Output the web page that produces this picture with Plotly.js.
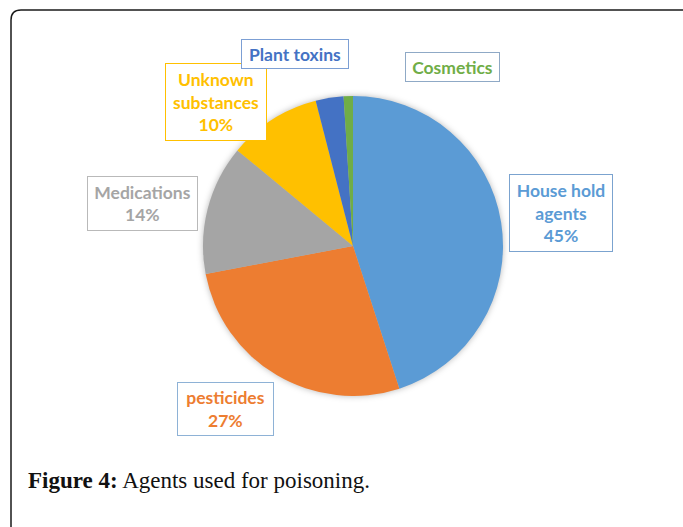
<!DOCTYPE html>
<html>
<head>
<meta charset="utf-8">
<script src="https://cdn.plot.ly/plotly-3.0.1.min.js"></script>
<style>
  html, body { margin: 0; padding: 0; background: #fff; }
  #chart { width: 683px; height: 527px; }
  #chart .pielayer { filter: drop-shadow(0 0 3px rgba(0,0,0,0.28)); }
</style>
</head>
<body>
<div id="chart"></div>
<script>
// Poisoning agents, share of cases (%)
const agents = ["House hold agents", "pesticides", "Medications", "Unknown substances", "Plant toxins", "Cosmetics"];
const shares = [45, 27, 14, 10, 3, 1];
const sliceColors = ["#5B9BD5", "#ED7D31", "#A5A5A5", "#FFC000", "#4472C4", "#70AD47"];
// Text shown in each callout box (lines separated by <br>)
const labelLines = [
  ["House hold", "agents", "45%"],
  ["pesticides", "27%"],
  ["Medications", "14%"],
  ["Unknown", "substances", "10%"],
  ["Plant toxins"],
  ["Cosmetics"]
];
const boxBorders = ["#7BA3CF", "#8EB2D6", "#B9B9B9", "#FFC000", "#7C9FD4", "#8FA9C6"];
const caption = "<b>Figure 4:</b> Agents used for poisoning.";

const W = 683, H = 527;
const px = x => x / W;
const py = y => 1 - y / H;

// Callout box centres and sizes in pixels
const boxes = [
  {cx: 561, cy: 213, w: 104, h: 78},
  {cx: 225.5, cy: 409, w: 97, h: 54},
  {cx: 142.5, cy: 203.5, w: 111, h: 55},
  {cx: 216, cy: 102, w: 102, h: 78},
  {cx: 295, cy: 54, w: 108, h: 30},
  {cx: 452.5, cy: 67, w: 95, h: 30}
];

const annotations = agents.map((a, i) => ({
  xref: "paper", yref: "paper",
  x: px(boxes[i].cx), y: py(boxes[i].cy),
  xanchor: "center", yanchor: "middle",
  showarrow: false,
  text: "<b>" + labelLines[i].join("<br>") + "</b>",
  font: {family: "Lato, 'Open Sans', sans-serif", size: 17.5, color: sliceColors[i]},
  align: "center",
  bgcolor: "#ffffff",
  bordercolor: boxBorders[i],
  borderwidth: 1,
  borderpad: 0,
  width: boxes[i].w - 2,
  height: boxes[i].h - 2
}));

annotations.push({
  xref: "paper", yref: "paper",
  x: px(26), y: py(480),
  xanchor: "left", yanchor: "middle",
  showarrow: false,
  text: caption,
  font: {family: "'Liberation Serif', 'DejaVu Serif', serif", size: 23, color: "#111"}
});

// Outer frame with a rounded top-left corner
const fx = px(11), fy = py(10), rx = 10 / W, ry = 10 / H;
const framePath = `M ${fx} -0.1 L ${fx} ${fy - ry} Q ${fx} ${fy} ${fx + rx} ${fy} L 1.1 ${fy}`;

const trace = {
  type: "pie",
  labels: agents,
  values: shares,
  sort: false,
  direction: "clockwise",
  rotation: 0,
  marker: {colors: sliceColors, line: {width: 0}},
  textinfo: "none",
  hoverinfo: "label+percent",
  domain: {x: [px(203), px(503)], y: [py(396), py(96)]}
};

const layout = {
  width: W, height: H,
  margin: {l: 0, r: 0, t: 0, b: 0},
  paper_bgcolor: "#ffffff",
  showlegend: false,
  annotations: annotations,
  shapes: [{
    type: "path", xref: "paper", yref: "paper",
    path: framePath,
    line: {color: "#1a1a1a", width: 1.5}
  }]
};

Plotly.newPlot("chart", [trace], layout, {displayModeBar: false, staticPlot: true});
</script>
</body>
</html>
